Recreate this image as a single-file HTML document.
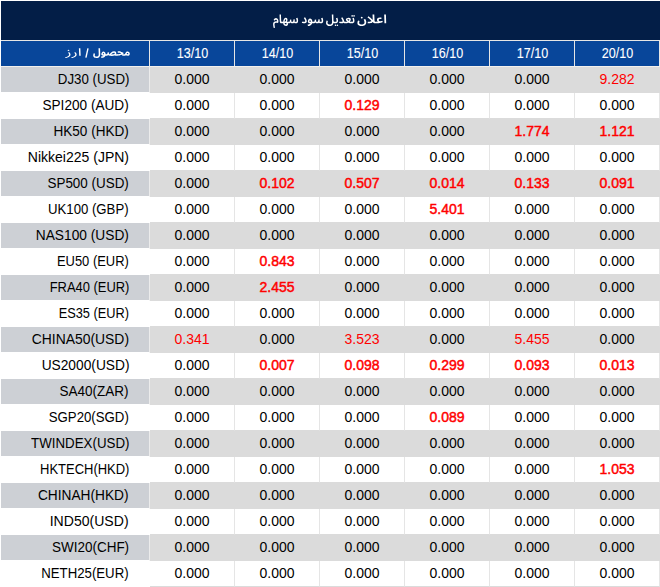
<!DOCTYPE html><html><head><meta charset='utf-8'><style>
*{margin:0;padding:0;box-sizing:border-box}
html,body{width:660px;height:587px;overflow:hidden;background:#fff}
body{position:relative;font-family:"Liberation Sans",sans-serif;}
.t{position:absolute;left:1px;top:1px;width:659px;height:39px;background:#031e47}
.h{position:absolute;top:41px;height:25px;background:#08469a}
.hd{position:absolute;top:41px;height:25px;width:84px;color:#fff;font-size:14px;line-height:25px;text-align:center}
.hd span{display:inline-block;transform:scaleX(0.9);position:relative;top:0px;left:1px;-webkit-text-stroke:0.1px #fff}
.r{position:absolute;left:1px;width:659px;height:26px}
.c{position:absolute;top:0;height:26px;border-right:1px solid #dbdbdb;border-bottom:1px solid #dbdbdb;text-align:center;font-size:14px;line-height:25px;color:#000000}
.c span{position:relative;top:0px}
.n{position:absolute;top:0;left:0;width:149px;height:26px;border-right:1px solid #ffffff;border-bottom:1px solid #ffffff;text-align:right;padding-right:20px;font-size:14px;line-height:25px;color:#000000}
.n span{display:inline-block;transform-origin:100% 50%;position:relative;top:0px}
.g .c{background:#dbdbdb}
.r:not(.g) .c{border-right-color:#e5e5e5}
.g .n{background:#cdd0d5;border-right-color:#ececec}
.red{color:#ff0000}
.b{-webkit-text-stroke:0.45px #ff0000}
svg{position:absolute;left:0;top:0}
</style></head><body><div class='t'></div><div style='position:absolute;left:1px;top:40px;width:659px;height:26px;background:#e6e6e6'></div><div style='position:absolute;left:1px;top:66px;width:659px;height:1px;background:#f2f0ed'></div><div class='h' style='left:1px;width:148px'></div><div class='h' style='left:150px;width:84px'></div><div class='hd' style='left:150px'><span>13/10</span></div><div class='h' style='left:235px;width:84px'></div><div class='hd' style='left:235px'><span>14/10</span></div><div class='h' style='left:320px;width:84px'></div><div class='hd' style='left:320px'><span>15/10</span></div><div class='h' style='left:405px;width:84px'></div><div class='hd' style='left:405px'><span>16/10</span></div><div class='h' style='left:490px;width:84px'></div><div class='hd' style='left:490px'><span>17/10</span></div><div class='h' style='left:575px;width:84px'></div><div class='hd' style='left:575px'><span>20/10</span></div><div class='r g' style='top:67px'><div class='n'><span style='transform:scaleX(0.9493)'>DJ30 (USD)</span></div><div class='c' style='left:149px;width:85px'><span class=''>0.000</span></div><div class='c' style='left:234px;width:85px'><span class=''>0.000</span></div><div class='c' style='left:319px;width:85px'><span class=''>0.000</span></div><div class='c' style='left:404px;width:85px'><span class=''>0.000</span></div><div class='c' style='left:489px;width:85px'><span class=''>0.000</span></div><div class='c' style='left:574px;width:85px'><span class='red'>9.282</span></div></div><div class='r' style='top:93px'><div class='n'><span style='transform:scaleX(0.9724)'>SPI200 (AUD)</span></div><div class='c' style='left:149px;width:85px'><span class=''>0.000</span></div><div class='c' style='left:234px;width:85px'><span class=''>0.000</span></div><div class='c' style='left:319px;width:85px'><span class='red b'>0.129</span></div><div class='c' style='left:404px;width:85px'><span class=''>0.000</span></div><div class='c' style='left:489px;width:85px'><span class=''>0.000</span></div><div class='c' style='left:574px;width:85px'><span class=''>0.000</span></div></div><div class='r g' style='top:119px'><div class='n'><span style='transform:scaleX(0.9684)'>HK50 (HKD)</span></div><div class='c' style='left:149px;width:85px'><span class=''>0.000</span></div><div class='c' style='left:234px;width:85px'><span class=''>0.000</span></div><div class='c' style='left:319px;width:85px'><span class=''>0.000</span></div><div class='c' style='left:404px;width:85px'><span class=''>0.000</span></div><div class='c' style='left:489px;width:85px'><span class='red b'>1.774</span></div><div class='c' style='left:574px;width:85px'><span class='red b'>1.121</span></div></div><div class='r' style='top:145px'><div class='n'><span style='transform:scaleX(1.0)'>Nikkei225 (JPN)</span></div><div class='c' style='left:149px;width:85px'><span class=''>0.000</span></div><div class='c' style='left:234px;width:85px'><span class=''>0.000</span></div><div class='c' style='left:319px;width:85px'><span class=''>0.000</span></div><div class='c' style='left:404px;width:85px'><span class=''>0.000</span></div><div class='c' style='left:489px;width:85px'><span class=''>0.000</span></div><div class='c' style='left:574px;width:85px'><span class=''>0.000</span></div></div><div class='r g' style='top:171px'><div class='n'><span style='transform:scaleX(0.959)'>SP500 (USD)</span></div><div class='c' style='left:149px;width:85px'><span class=''>0.000</span></div><div class='c' style='left:234px;width:85px'><span class='red b'>0.102</span></div><div class='c' style='left:319px;width:85px'><span class='red b'>0.507</span></div><div class='c' style='left:404px;width:85px'><span class='red b'>0.014</span></div><div class='c' style='left:489px;width:85px'><span class='red b'>0.133</span></div><div class='c' style='left:574px;width:85px'><span class='red b'>0.091</span></div></div><div class='r' style='top:197px'><div class='n'><span style='transform:scaleX(0.9417)'>UK100 (GBP)</span></div><div class='c' style='left:149px;width:85px'><span class=''>0.000</span></div><div class='c' style='left:234px;width:85px'><span class=''>0.000</span></div><div class='c' style='left:319px;width:85px'><span class=''>0.000</span></div><div class='c' style='left:404px;width:85px'><span class='red b'>5.401</span></div><div class='c' style='left:489px;width:85px'><span class=''>0.000</span></div><div class='c' style='left:574px;width:85px'><span class=''>0.000</span></div></div><div class='r g' style='top:223px'><div class='n'><span style='transform:scaleX(0.9817)'>NAS100 (USD)</span></div><div class='c' style='left:149px;width:85px'><span class=''>0.000</span></div><div class='c' style='left:234px;width:85px'><span class=''>0.000</span></div><div class='c' style='left:319px;width:85px'><span class=''>0.000</span></div><div class='c' style='left:404px;width:85px'><span class=''>0.000</span></div><div class='c' style='left:489px;width:85px'><span class=''>0.000</span></div><div class='c' style='left:574px;width:85px'><span class=''>0.000</span></div></div><div class='r' style='top:249px'><div class='n'><span style='transform:scaleX(0.9237)'>EU50 (EUR)</span></div><div class='c' style='left:149px;width:85px'><span class=''>0.000</span></div><div class='c' style='left:234px;width:85px'><span class='red b'>0.843</span></div><div class='c' style='left:319px;width:85px'><span class=''>0.000</span></div><div class='c' style='left:404px;width:85px'><span class=''>0.000</span></div><div class='c' style='left:489px;width:85px'><span class=''>0.000</span></div><div class='c' style='left:574px;width:85px'><span class=''>0.000</span></div></div><div class='r g' style='top:275px'><div class='n'><span style='transform:scaleX(0.9224)'>FRA40 (EUR)</span></div><div class='c' style='left:149px;width:85px'><span class=''>0.000</span></div><div class='c' style='left:234px;width:85px'><span class='red b'>2.455</span></div><div class='c' style='left:319px;width:85px'><span class=''>0.000</span></div><div class='c' style='left:404px;width:85px'><span class=''>0.000</span></div><div class='c' style='left:489px;width:85px'><span class=''>0.000</span></div><div class='c' style='left:574px;width:85px'><span class=''>0.000</span></div></div><div class='r' style='top:301px'><div class='n'><span style='transform:scaleX(0.9133)'>ES35 (EUR)</span></div><div class='c' style='left:149px;width:85px'><span class=''>0.000</span></div><div class='c' style='left:234px;width:85px'><span class=''>0.000</span></div><div class='c' style='left:319px;width:85px'><span class=''>0.000</span></div><div class='c' style='left:404px;width:85px'><span class=''>0.000</span></div><div class='c' style='left:489px;width:85px'><span class=''>0.000</span></div><div class='c' style='left:574px;width:85px'><span class=''>0.000</span></div></div><div class='r g' style='top:327px'><div class='n'><span style='transform:scaleX(0.9927)'>CHINA50(USD)</span></div><div class='c' style='left:149px;width:85px'><span class='red'>0.341</span></div><div class='c' style='left:234px;width:85px'><span class=''>0.000</span></div><div class='c' style='left:319px;width:85px'><span class='red'>3.523</span></div><div class='c' style='left:404px;width:85px'><span class=''>0.000</span></div><div class='c' style='left:489px;width:85px'><span class='red'>5.455</span></div><div class='c' style='left:574px;width:85px'><span class=''>0.000</span></div></div><div class='r' style='top:353px'><div class='n'><span style='transform:scaleX(0.9818)'>US2000(USD)</span></div><div class='c' style='left:149px;width:85px'><span class=''>0.000</span></div><div class='c' style='left:234px;width:85px'><span class='red b'>0.007</span></div><div class='c' style='left:319px;width:85px'><span class='red b'>0.098</span></div><div class='c' style='left:404px;width:85px'><span class='red b'>0.299</span></div><div class='c' style='left:489px;width:85px'><span class='red b'>0.093</span></div><div class='c' style='left:574px;width:85px'><span class='red b'>0.013</span></div></div><div class='r g' style='top:379px'><div class='n'><span style='transform:scaleX(0.9657)'>SA40(ZAR)</span></div><div class='c' style='left:149px;width:85px'><span class=''>0.000</span></div><div class='c' style='left:234px;width:85px'><span class=''>0.000</span></div><div class='c' style='left:319px;width:85px'><span class=''>0.000</span></div><div class='c' style='left:404px;width:85px'><span class=''>0.000</span></div><div class='c' style='left:489px;width:85px'><span class=''>0.000</span></div><div class='c' style='left:574px;width:85px'><span class=''>0.000</span></div></div><div class='r' style='top:405px'><div class='n'><span style='transform:scaleX(0.9446)'>SGP20(SGD)</span></div><div class='c' style='left:149px;width:85px'><span class=''>0.000</span></div><div class='c' style='left:234px;width:85px'><span class=''>0.000</span></div><div class='c' style='left:319px;width:85px'><span class=''>0.000</span></div><div class='c' style='left:404px;width:85px'><span class='red b'>0.089</span></div><div class='c' style='left:489px;width:85px'><span class=''>0.000</span></div><div class='c' style='left:574px;width:85px'><span class=''>0.000</span></div></div><div class='r g' style='top:431px'><div class='n'><span style='transform:scaleX(0.9505)'>TWINDEX(USD)</span></div><div class='c' style='left:149px;width:85px'><span class=''>0.000</span></div><div class='c' style='left:234px;width:85px'><span class=''>0.000</span></div><div class='c' style='left:319px;width:85px'><span class=''>0.000</span></div><div class='c' style='left:404px;width:85px'><span class=''>0.000</span></div><div class='c' style='left:489px;width:85px'><span class=''>0.000</span></div><div class='c' style='left:574px;width:85px'><span class=''>0.000</span></div></div><div class='r' style='top:457px'><div class='n'><span style='transform:scaleX(0.9263)'>HKTECH(HKD)</span></div><div class='c' style='left:149px;width:85px'><span class=''>0.000</span></div><div class='c' style='left:234px;width:85px'><span class=''>0.000</span></div><div class='c' style='left:319px;width:85px'><span class=''>0.000</span></div><div class='c' style='left:404px;width:85px'><span class=''>0.000</span></div><div class='c' style='left:489px;width:85px'><span class=''>0.000</span></div><div class='c' style='left:574px;width:85px'><span class='red b'>1.053</span></div></div><div class='r g' style='top:483px'><div class='n'><span style='transform:scaleX(0.9791)'>CHINAH(HKD)</span></div><div class='c' style='left:149px;width:85px'><span class=''>0.000</span></div><div class='c' style='left:234px;width:85px'><span class=''>0.000</span></div><div class='c' style='left:319px;width:85px'><span class=''>0.000</span></div><div class='c' style='left:404px;width:85px'><span class=''>0.000</span></div><div class='c' style='left:489px;width:85px'><span class=''>0.000</span></div><div class='c' style='left:574px;width:85px'><span class=''>0.000</span></div></div><div class='r' style='top:509px'><div class='n'><span style='transform:scaleX(1.0039)'>IND50(USD)</span></div><div class='c' style='left:149px;width:85px'><span class=''>0.000</span></div><div class='c' style='left:234px;width:85px'><span class=''>0.000</span></div><div class='c' style='left:319px;width:85px'><span class=''>0.000</span></div><div class='c' style='left:404px;width:85px'><span class=''>0.000</span></div><div class='c' style='left:489px;width:85px'><span class=''>0.000</span></div><div class='c' style='left:574px;width:85px'><span class=''>0.000</span></div></div><div class='r g' style='top:535px'><div class='n'><span style='transform:scaleX(0.9628)'>SWI20(CHF)</span></div><div class='c' style='left:149px;width:85px'><span class=''>0.000</span></div><div class='c' style='left:234px;width:85px'><span class=''>0.000</span></div><div class='c' style='left:319px;width:85px'><span class=''>0.000</span></div><div class='c' style='left:404px;width:85px'><span class=''>0.000</span></div><div class='c' style='left:489px;width:85px'><span class=''>0.000</span></div><div class='c' style='left:574px;width:85px'><span class=''>0.000</span></div></div><div class='r' style='top:561px'><div class='n'><span style='transform:scaleX(0.9429)'>NETH25(EUR)</span></div><div class='c' style='left:149px;width:85px'><span class=''>0.000</span></div><div class='c' style='left:234px;width:85px'><span class=''>0.000</span></div><div class='c' style='left:319px;width:85px'><span class=''>0.000</span></div><div class='c' style='left:404px;width:85px'><span class=''>0.000</span></div><div class='c' style='left:489px;width:85px'><span class=''>0.000</span></div><div class='c' style='left:574px;width:85px'><span class=''>0.000</span></div></div><svg width='660' height='587' viewBox='0 0 660 587'><path fill='#fff' d='M273.71 28.05Q273.51 27.21 273.37 26.47Q273.23 25.74 273.17 25.14Q273.1 24.55 273.1 24.13Q273.1 23.31 273.36 22.76Q273.61 22.2 274.05 21.87Q274.48 21.54 274.99 21.4Q275.51 21.26 276.04 21.27Q276.56 21.27 277.01 21.37Q277.04 20.99 276.97 20.68Q276.89 20.36 276.75 20.13Q276.61 19.89 276.41 19.77Q276.2 19.64 275.97 19.64Q275.74 19.64 275.53 19.75Q275.31 19.87 275.12 20.1Q274.93 20.33 274.76 20.68L273.65 20.01Q273.95 19.29 274.35 18.87Q274.74 18.45 275.18 18.26Q275.62 18.08 276.04 18.08Q276.68 18.08 277.15 18.38Q277.61 18.68 277.9 19.15Q278.18 19.63 278.32 20.17Q278.45 20.71 278.45 21.2Q278.45 21.57 278.38 21.94Q278.31 22.3 278.22 22.59Q278.12 22.89 278.04 23.05Q277.43 22.86 276.89 22.78Q276.35 22.7 275.92 22.73Q275.49 22.76 275.18 22.92Q274.86 23.08 274.7 23.4Q274.53 23.71 274.53 24.2Q274.53 24.64 274.59 25.22Q274.66 25.81 274.78 26.43Q274.9 27.06 275.06 27.68ZM282.3 23.36Q281.3 23.36 280.76 23.13Q280.22 22.91 280 22.42Q279.79 21.94 279.76 21.19L279.53 14.5H280.96L281.19 20.47Q281.21 21.03 281.3 21.31Q281.38 21.6 281.64 21.7Q281.9 21.8 282.41 21.8Q282.8 21.8 282.97 22.02Q283.13 22.24 283.13 22.56Q283.13 22.9 282.92 23.13Q282.7 23.36 282.3 23.36ZM285.97 25.95Q285.2 25.95 284.55 25.59Q283.91 25.22 283.52 24.46Q283.14 23.69 283.14 22.5Q283.14 21.44 283.37 20.56Q283.59 19.67 283.99 19.03Q284.38 18.38 284.87 18.02Q285.36 17.67 285.9 17.67Q286.31 17.67 286.67 17.92Q287.03 18.18 287.26 18.66Q287.48 19.13 287.48 19.82Q287.48 20.23 287.34 20.72Q287.2 21.2 286.83 21.63Q286.47 22.05 285.81 22.3L286.16 21.4Q286.51 21.54 286.91 21.63Q287.31 21.71 287.74 21.76Q288.17 21.8 288.59 21.8Q288.98 21.8 289.15 22.02Q289.31 22.24 289.31 22.56Q289.31 22.9 289.1 23.13Q288.88 23.36 288.48 23.36Q288.18 23.36 287.79 23.32Q287.41 23.29 287.04 23.23Q286.68 23.17 286.41 23.1L287.57 22.85Q287.83 23.18 287.93 23.59Q288.02 24 287.96 24.42Q287.89 24.83 287.65 25.18Q287.41 25.53 286.99 25.74Q286.57 25.95 285.97 25.95ZM282.31 23.36 282.42 21.8Q282.62 21.8 282.92 21.8Q283.22 21.8 283.45 21.8L283.56 23.21Q283.25 23.28 282.9 23.32Q282.55 23.36 282.31 23.36ZM285.94 24.41Q286.15 24.41 286.31 24.33Q286.46 24.25 286.54 24.11Q286.62 23.96 286.62 23.76Q286.62 23.59 286.53 23.39Q286.43 23.2 286.17 23.06Q285.9 22.92 285.42 22.92Q285.26 22.92 285.07 22.94Q284.88 22.96 284.67 23Q284.46 23.04 284.24 23.1L284.28 21.77Q284.7 21.73 285.04 21.61Q285.37 21.49 285.61 21.29Q285.84 21.08 285.97 20.78Q286.09 20.47 286.09 20.06Q286.09 19.86 286.06 19.67Q286.02 19.47 285.95 19.34Q285.88 19.21 285.77 19.21Q285.59 19.21 285.39 19.43Q285.18 19.65 284.99 20.06Q284.81 20.47 284.69 21.04Q284.56 21.61 284.56 22.3Q284.56 22.92 284.68 23.33Q284.8 23.74 285 23.97Q285.2 24.21 285.45 24.31Q285.69 24.41 285.94 24.41ZM288.49 23.36 288.6 21.8Q288.97 21.8 289.2 21.74Q289.43 21.67 289.58 21.44Q289.73 21.21 289.84 20.73Q289.96 20.25 290.11 19.42L291.44 19.7Q291.4 19.89 291.36 20.13Q291.31 20.38 291.27 20.63Q291.24 20.88 291.24 21.08Q291.24 21.41 291.44 21.61Q291.64 21.8 292.19 21.8Q292.48 21.8 292.69 21.74Q292.89 21.67 293.04 21.44Q293.19 21.2 293.3 20.7Q293.42 20.2 293.53 19.34L294.87 19.57Q294.83 19.84 294.79 20.15Q294.74 20.47 294.71 20.74Q294.67 21.01 294.67 21.19Q294.67 21.35 294.75 21.49Q294.83 21.63 295.06 21.72Q295.28 21.8 295.71 21.8Q296.01 21.8 296.23 21.72Q296.45 21.63 296.57 21.43Q296.69 21.23 296.69 20.9Q296.69 20.45 296.5 19.73Q296.31 19.01 296.05 18.24L297.49 17.76Q297.66 18.25 297.8 18.82Q297.93 19.39 298.02 19.93Q298.1 20.46 298.1 20.86Q298.1 21.47 297.93 21.94Q297.76 22.4 297.46 22.72Q297.15 23.03 296.72 23.2Q296.3 23.36 295.78 23.36Q295.17 23.36 294.77 23.22Q294.38 23.08 294.17 22.76Q293.96 22.44 293.9 21.89H294.27Q294.04 22.57 293.77 22.88Q293.49 23.19 293.11 23.27Q292.72 23.36 292.14 23.36Q291.79 23.36 291.42 23.27Q291.06 23.18 290.77 22.85Q290.48 22.52 290.36 21.84L290.91 21.8Q290.68 22.5 290.33 22.83Q289.98 23.16 289.52 23.26Q289.06 23.36 288.49 23.36Z M301.8 22.81 302.35 21.4Q302.73 21.59 303.13 21.7Q303.53 21.8 303.95 21.8Q304.38 21.8 304.67 21.72Q304.95 21.63 305.09 21.46Q305.24 21.28 305.24 21.05Q305.24 20.84 305.12 20.48Q305 20.11 304.69 19.52Q304.38 18.93 303.76 18.04L305.03 17.17Q305.59 18 305.99 18.76Q306.38 19.53 306.59 20.18Q306.8 20.82 306.8 21.31Q306.8 21.91 306.5 22.37Q306.2 22.83 305.6 23.1Q305 23.37 304.09 23.37Q303.74 23.37 303.33 23.31Q302.92 23.25 302.52 23.12Q302.12 23 301.8 22.81ZM307.93 26.08 307.62 24.52Q308.41 24.41 309.01 24.26Q309.62 24.1 310.04 23.82Q310.45 23.55 310.66 23.07Q310.88 22.59 310.88 21.84Q310.88 21.11 310.65 20.67Q310.43 20.22 310.06 20.22Q309.82 20.22 309.65 20.4Q309.48 20.58 309.39 20.83Q309.31 21.08 309.31 21.3Q309.31 21.43 309.37 21.56Q309.44 21.68 309.63 21.76Q309.82 21.85 310.22 21.86Q310.61 21.88 311.27 21.8H313.3Q313.7 21.8 313.87 22.02Q314.05 22.24 314.05 22.56Q314.05 22.9 313.82 23.13Q313.59 23.36 313.18 23.36H310.09Q309.4 23.36 308.9 23.18Q308.4 23.01 308.12 22.62Q307.85 22.23 307.85 21.57Q307.85 21.04 308.02 20.51Q308.19 19.98 308.5 19.54Q308.81 19.11 309.23 18.84Q309.65 18.58 310.14 18.58Q310.8 18.58 311.3 19.01Q311.79 19.43 312.08 20.15Q312.36 20.88 312.36 21.77Q312.36 23.09 311.83 24.02Q311.3 24.94 310.31 25.46Q309.31 25.98 307.93 26.08ZM313.19 23.36 313.31 21.8Q313.68 21.8 313.92 21.74Q314.16 21.67 314.32 21.44Q314.47 21.21 314.6 20.73Q314.72 20.25 314.88 19.42L316.26 19.7Q316.22 19.89 316.17 20.13Q316.12 20.38 316.09 20.63Q316.05 20.88 316.05 21.08Q316.05 21.41 316.26 21.61Q316.47 21.8 317.05 21.8Q317.35 21.8 317.56 21.74Q317.77 21.67 317.93 21.44Q318.08 21.2 318.2 20.7Q318.32 20.2 318.44 19.34L319.84 19.57Q319.79 19.84 319.75 20.15Q319.7 20.47 319.67 20.74Q319.63 21.01 319.63 21.19Q319.63 21.35 319.71 21.49Q319.8 21.63 320.03 21.72Q320.27 21.8 320.71 21.8Q321.02 21.8 321.25 21.72Q321.48 21.63 321.6 21.43Q321.73 21.23 321.73 20.9Q321.73 20.45 321.53 19.73Q321.33 19.01 321.07 18.24L322.56 17.76Q322.74 18.25 322.88 18.82Q323.03 19.39 323.11 19.93Q323.2 20.46 323.2 20.86Q323.2 21.47 323.02 21.94Q322.85 22.4 322.53 22.72Q322.21 23.03 321.77 23.2Q321.32 23.36 320.79 23.36Q320.14 23.36 319.73 23.22Q319.32 23.08 319.1 22.76Q318.89 22.44 318.82 21.89H319.21Q318.97 22.57 318.69 22.88Q318.4 23.19 318 23.27Q317.6 23.36 316.99 23.36Q316.63 23.36 316.25 23.27Q315.86 23.18 315.56 22.85Q315.26 22.52 315.13 21.84L315.7 21.8Q315.47 22.5 315.1 22.83Q314.74 23.16 314.26 23.26Q313.79 23.36 313.19 23.36Z M326.05 23.03Q326.05 22.75 326.1 22.38Q326.14 22.01 326.27 21.56Q326.39 21.1 326.63 20.54L327.93 21.02Q327.81 21.39 327.72 21.7Q327.62 22 327.58 22.26Q327.53 22.53 327.53 22.78Q327.53 23.33 327.8 23.74Q328.07 24.15 328.53 24.37Q329 24.59 329.59 24.59Q330.6 24.59 331.14 24.24Q331.69 23.9 331.89 23.18Q332.09 22.47 332.05 21.39L331.81 14.5H333.31L333.48 20.29Q333.5 20.9 333.65 21.23Q333.79 21.56 334.08 21.68Q334.38 21.8 334.82 21.8Q335.22 21.8 335.39 22.02Q335.56 22.24 335.56 22.56Q335.56 22.9 335.34 23.13Q335.11 23.36 334.71 23.36Q334.44 23.36 334.15 23.28Q333.87 23.2 333.63 23.05Q333.38 22.89 333.21 22.64Q333.03 22.39 332.97 22.03L333.53 21.83Q333.52 22.94 333.26 23.75Q333 24.55 332.51 25.07Q332.01 25.59 331.27 25.84Q330.53 26.09 329.54 26.09Q328.83 26.09 328.2 25.9Q327.57 25.71 327.09 25.33Q326.6 24.94 326.33 24.37Q326.05 23.8 326.05 23.03ZM334.71 23.36 334.82 21.8Q335.51 21.8 335.88 21.73Q336.25 21.66 336.4 21.46Q336.55 21.26 336.55 20.86Q336.55 20.53 336.46 20.07Q336.37 19.61 336.24 19.11Q336.1 18.61 335.95 18.18L337.41 17.74Q337.56 18.14 337.7 18.68Q337.83 19.21 337.93 19.77Q338.02 20.32 338.02 20.82Q338.02 21.6 337.78 22.1Q337.55 22.6 337.12 22.87Q336.69 23.15 336.07 23.25Q335.46 23.36 334.71 23.36ZM337.42 26.06Q337.1 26.06 336.88 25.83Q336.65 25.6 336.65 25.27Q336.65 24.95 336.87 24.71Q337.1 24.47 337.42 24.47Q337.72 24.47 337.94 24.71Q338.16 24.95 338.16 25.27Q338.16 25.6 337.94 25.83Q337.72 26.06 337.42 26.06ZM335.5 26.06Q335.19 26.06 334.96 25.83Q334.74 25.6 334.74 25.27Q334.74 24.95 334.96 24.71Q335.18 24.47 335.5 24.47Q335.81 24.47 336.03 24.71Q336.24 24.95 336.24 25.27Q336.24 25.6 336.03 25.83Q335.81 26.06 335.5 26.06ZM341.21 21.8Q341.74 21.8 342.03 21.7Q342.31 21.6 342.43 21.43Q342.54 21.26 342.54 21.05Q342.54 20.77 342.39 20.39Q342.24 20.01 342.02 19.59Q341.79 19.17 341.54 18.77Q341.29 18.37 341.07 18.04L342.33 17.17Q342.82 17.87 343.17 18.54Q343.52 19.21 343.75 19.79Q343.97 20.36 344.07 20.79Q344.18 21.2 344.37 21.42Q344.56 21.64 344.81 21.72Q345.05 21.8 345.29 21.8Q345.7 21.8 345.87 22.02Q346.05 22.24 346.05 22.56Q346.05 22.9 345.82 23.13Q345.6 23.36 345.18 23.36Q344.7 23.36 344.32 23.21Q343.95 23.07 343.68 22.75Q343.42 22.43 343.25 21.93L343.91 21.98Q343.83 22.35 343.53 22.66Q343.22 22.98 342.69 23.18Q342.16 23.37 341.4 23.37Q341.04 23.37 340.62 23.31Q340.21 23.25 339.82 23.12Q339.43 23 339.11 22.81L339.65 21.4Q340.04 21.59 340.44 21.7Q340.84 21.8 341.21 21.8ZM345.15 23.36 345.27 21.8Q346.05 21.8 346.69 21.68Q347.33 21.56 347.82 21.36Q348.31 21.16 348.65 20.9Q348.98 20.63 349.16 20.34Q349.33 20.05 349.33 19.76Q349.33 19.6 349.25 19.46Q349.17 19.32 348.98 19.22Q348.8 19.13 348.48 19.13Q348.31 19.13 348.08 19.17Q347.85 19.21 347.63 19.29Q347.41 19.37 347.23 19.49Q347.48 19.69 347.77 19.98Q348.05 20.27 348.34 20.59Q348.63 20.9 348.86 21.22Q349.1 21.34 349.4 21.45Q349.7 21.57 350.06 21.64Q350.41 21.72 350.79 21.76Q351.18 21.8 351.58 21.8Q351.98 21.8 352.15 22.02Q352.33 22.24 352.33 22.56Q352.33 22.9 352.1 23.13Q351.88 23.36 351.46 23.36Q350.6 23.36 349.89 23.21Q349.19 23.07 348.63 22.78Q348.07 22.49 347.6 22.07Q347.45 21.82 347.21 21.53Q346.96 21.23 346.69 20.96Q346.41 20.68 346.18 20.49Q346.12 20.44 346.04 20.24Q345.97 20.04 345.91 19.81Q345.86 19.59 345.86 19.5Q345.86 19.24 346.1 18.93Q346.34 18.63 346.75 18.37Q347.16 18.1 347.67 17.93Q348.17 17.76 348.7 17.76Q349.4 17.76 349.86 17.98Q350.33 18.2 350.56 18.58Q350.79 18.96 350.79 19.45Q350.79 20.02 350.55 20.58Q350.3 21.15 349.84 21.64Q349.37 22.14 348.69 22.53Q348 22.91 347.12 23.14Q346.23 23.36 345.15 23.36ZM351.47 23.36 351.59 21.8Q352.11 21.8 352.41 21.73Q352.71 21.66 352.84 21.45Q352.97 21.25 352.97 20.86Q352.97 20.53 352.88 20.07Q352.79 19.61 352.65 19.11Q352.51 18.61 352.37 18.18L353.83 17.74Q353.97 18.14 354.11 18.68Q354.25 19.21 354.34 19.77Q354.44 20.32 354.44 20.82Q354.44 21.45 354.29 21.89Q354.14 22.33 353.88 22.62Q353.61 22.91 353.24 23.07Q352.87 23.23 352.42 23.3Q351.97 23.36 351.47 23.36ZM354.06 16.71Q353.74 16.71 353.52 16.47Q353.3 16.24 353.3 15.92Q353.3 15.59 353.52 15.35Q353.74 15.11 354.06 15.11Q354.36 15.11 354.58 15.35Q354.8 15.59 354.8 15.92Q354.8 16.24 354.58 16.47Q354.36 16.71 354.06 16.71ZM352.15 16.7Q351.83 16.7 351.61 16.46Q351.39 16.23 351.39 15.91Q351.39 15.58 351.61 15.34Q351.83 15.1 352.15 15.1Q352.45 15.1 352.67 15.34Q352.89 15.58 352.89 15.91Q352.89 16.23 352.67 16.46Q352.45 16.7 352.15 16.7Z M357.4 23.03Q357.4 22.75 357.46 22.38Q357.51 22.01 357.66 21.56Q357.8 21.1 358.08 20.54L359.61 21.02Q359.47 21.39 359.36 21.7Q359.25 22 359.2 22.26Q359.15 22.53 359.15 22.78Q359.15 23.38 359.46 23.76Q359.78 24.15 360.35 24.34Q360.92 24.53 361.66 24.53Q362.52 24.53 363.07 24.33Q363.63 24.12 363.94 23.8Q364.25 23.47 364.38 23.08Q364.51 22.69 364.51 22.31Q364.51 21.83 364.31 21.15Q364.12 20.47 363.63 19.59L365.24 18.97Q365.51 19.4 365.74 19.95Q365.97 20.5 366.11 21.09Q366.25 21.68 366.25 22.22Q366.25 22.7 366.12 23.23Q365.98 23.76 365.67 24.27Q365.35 24.78 364.82 25.19Q364.29 25.59 363.5 25.84Q362.72 26.09 361.63 26.09Q360.76 26.09 359.99 25.91Q359.22 25.74 358.65 25.37Q358.07 25.01 357.73 24.42Q357.4 23.84 357.4 23.03ZM361.75 18.4Q361.36 18.4 361.09 18.16Q360.81 17.92 360.81 17.57Q360.81 17.22 361.09 16.97Q361.36 16.72 361.76 16.72Q362.13 16.72 362.41 16.97Q362.68 17.22 362.68 17.57Q362.68 17.92 362.41 18.16Q362.13 18.4 361.75 18.4ZM375.93 23.36Q375 23.36 374.41 23.23Q373.81 23.11 373.47 22.84Q373.13 22.57 372.98 22.17Q372.84 21.76 372.82 21.19L372.53 14.5H374.28L374.56 20.47Q374.59 21.03 374.7 21.31Q374.8 21.6 375.12 21.7Q375.43 21.8 376.06 21.8Q376.53 21.8 376.74 22.02Q376.94 22.24 376.94 22.56Q376.94 22.9 376.68 23.13Q376.41 23.36 375.93 23.36ZM368.85 23.36Q368.48 23.36 368.11 23.31Q367.74 23.25 367.59 23.23L367.83 21.63Q368.76 21.74 369.64 21.67Q370.51 21.6 371.21 21.28Q371.9 20.95 372.31 20.31Q372.71 19.68 372.71 18.66L373.43 20.47Q373.27 21.28 372.89 21.82Q372.52 22.35 372.01 22.66Q371.51 22.97 370.95 23.12Q370.38 23.27 369.84 23.31Q369.3 23.36 368.85 23.36ZM371.79 21.71Q371.58 21.35 371.2 20.87Q370.82 20.39 370.27 19.8Q369.72 19.21 369.02 18.56Q368.31 17.9 367.47 17.21L368.56 16.15Q369.75 17.16 370.52 17.87Q371.29 18.58 371.77 19.09Q372.25 19.59 372.52 19.97Q372.8 20.34 372.99 20.68ZM375.94 23.36 376.07 21.8Q376.75 21.8 377.12 21.79Q377.49 21.78 377.67 21.76Q377.85 21.74 377.97 21.73Q377.81 21.61 377.58 21.38Q377.34 21.14 377.16 20.77Q376.97 20.4 376.97 19.88Q376.97 19.16 377.39 18.61Q377.8 18.06 378.51 17.75Q379.22 17.44 380.11 17.44Q380.52 17.44 380.89 17.49Q381.26 17.54 381.63 17.63L381.34 19.11Q381.07 19.05 380.78 19.01Q380.48 18.98 380.24 18.98Q379.79 18.98 379.45 19.11Q379.11 19.25 378.92 19.48Q378.73 19.72 378.73 20.05Q378.73 20.28 378.83 20.47Q378.93 20.67 379.09 20.82Q379.24 20.98 379.43 21.09Q379.62 21.21 379.8 21.27Q379.98 21.34 380.11 21.36Q380.42 21.28 380.64 21.22Q380.87 21.16 381.1 21.1Q381.32 21.03 381.6 20.93Q381.88 20.82 382.29 20.66L382.86 22.12Q381.76 22.59 380.71 22.86Q379.65 23.13 378.5 23.25Q377.35 23.36 375.94 23.36ZM384.46 23.3 384.17 14.5H385.92L386.2 23.3Z'/><path fill='#fff' d='M65.53 58.07 65 57.21Q66.63 56.88 67.52 56.44Q68.42 55.99 68.77 55.51Q69.12 55.02 69.12 54.57Q69.12 54.28 69.02 54Q68.91 53.73 68.67 53.38Q68.42 53.04 67.99 52.55L69.34 52.13Q69.95 52.81 70.23 53.41Q70.51 54.01 70.51 54.48Q70.51 55.11 70.19 55.63Q69.88 56.15 69.34 56.55Q68.81 56.96 68.16 57.26Q67.51 57.56 66.82 57.76Q66.13 57.97 65.53 58.07ZM68.49 50.96Q68.12 50.96 67.87 50.81Q67.61 50.65 67.61 50.42Q67.61 50.2 67.87 50.03Q68.12 49.87 68.49 49.87Q68.85 49.87 69.1 50.03Q69.36 50.2 69.36 50.42Q69.36 50.65 69.1 50.81Q68.85 50.96 68.49 50.96ZM71.68 58.07 71.15 57.21Q72.78 56.88 73.67 56.44Q74.57 55.99 74.92 55.51Q75.27 55.02 75.27 54.57Q75.27 54.28 75.16 54Q75.06 53.73 74.81 53.38Q74.57 53.04 74.14 52.55L75.48 52.13Q76.1 52.81 76.38 53.41Q76.66 54.01 76.66 54.48Q76.66 55.11 76.34 55.63Q76.03 56.15 75.49 56.55Q74.96 56.96 74.31 57.26Q73.66 57.56 72.97 57.76Q72.28 57.97 71.68 58.07ZM79.22 55.7 78.89 48.3H80.37L80.7 55.7Z M93.2 55.41Q93.2 55.16 93.24 54.85Q93.28 54.54 93.4 54.14Q93.52 53.74 93.75 53.23L95.13 53.69Q95.01 54.02 94.92 54.27Q94.84 54.52 94.8 54.73Q94.76 54.94 94.76 55.15Q94.76 55.63 94.99 55.95Q95.22 56.27 95.65 56.43Q96.07 56.59 96.63 56.59Q97.36 56.59 97.78 56.37Q98.21 56.16 98.41 55.76Q98.61 55.36 98.67 54.82Q98.72 54.28 98.7 53.64L98.5 48.3H100.06L100.24 53.55Q100.26 54.21 100.19 54.85Q100.11 55.5 99.89 56.07Q99.66 56.64 99.25 57.07Q98.83 57.51 98.18 57.76Q97.54 58.01 96.6 58.01Q95.9 58.01 95.29 57.86Q94.67 57.71 94.2 57.4Q93.73 57.08 93.47 56.59Q93.2 56.09 93.2 55.41ZM101.4 58.01 101.11 56.57Q101.86 56.49 102.43 56.36Q103 56.23 103.39 56.01Q103.77 55.78 103.96 55.4Q104.16 55.02 104.16 54.44Q104.16 53.81 103.97 53.45Q103.78 53.08 103.46 53.08Q103.25 53.08 103.11 53.22Q102.98 53.36 102.91 53.56Q102.84 53.75 102.84 53.9Q102.84 54.01 102.9 54.11Q102.96 54.22 103.14 54.29Q103.33 54.36 103.73 54.37Q104.13 54.37 104.82 54.28H106.45Q106.87 54.28 107.06 54.49Q107.24 54.69 107.24 55Q107.24 55.32 107.01 55.54Q106.78 55.75 106.34 55.75H103.59Q102.88 55.75 102.38 55.58Q101.87 55.42 101.6 55.07Q101.34 54.72 101.34 54.15Q101.34 53.7 101.5 53.25Q101.66 52.8 101.96 52.42Q102.25 52.05 102.65 51.82Q103.05 51.59 103.52 51.59Q104.18 51.59 104.67 51.97Q105.15 52.35 105.42 52.98Q105.69 53.61 105.69 54.35Q105.69 55.46 105.18 56.25Q104.68 57.04 103.72 57.48Q102.76 57.93 101.4 58.01ZM117.04 55.75Q116.46 55.75 115.95 55.65Q115.45 55.55 115.06 55.38Q114.67 55.22 114.42 55.03L115.38 54Q115.76 54.15 116.16 54.22Q116.56 54.28 117.14 54.28Q117.57 54.28 117.75 54.49Q117.94 54.69 117.94 55Q117.94 55.32 117.7 55.54Q117.47 55.75 117.04 55.75ZM111.86 55.88Q110.87 55.88 110.22 55.8Q109.57 55.71 109.17 55.56Q108.77 55.41 108.53 55.2Q108.29 54.99 108.14 54.74L108.44 54.66Q108.18 55.14 107.83 55.37Q107.49 55.61 107.12 55.68Q106.74 55.75 106.35 55.75L106.46 54.28Q106.78 54.28 106.96 54.18Q107.14 54.08 107.26 53.85Q107.38 53.62 107.48 53.23Q107.58 52.85 107.73 52.29L109.15 52.62Q109.08 52.89 109.03 53.09Q108.98 53.29 108.96 53.44Q108.93 53.58 108.93 53.67Q108.93 53.86 109.02 54Q109.11 54.15 109.38 54.24Q109.65 54.32 110.16 54.37Q110.68 54.41 111.53 54.41Q112.48 54.41 113.1 54.35Q113.72 54.28 114.08 54.16Q114.44 54.03 114.59 53.85Q114.75 53.68 114.75 53.44Q114.75 53.26 114.66 53.1Q114.57 52.94 114.38 52.83Q114.18 52.73 113.88 52.73Q113.52 52.73 113.15 52.89Q112.78 53.06 112.41 53.33Q112.04 53.61 111.71 53.95Q111.37 54.29 111.1 54.65L109.45 54.46Q109.88 53.81 110.4 53.23Q110.93 52.65 111.53 52.21Q112.13 51.76 112.76 51.51Q113.39 51.25 114.04 51.25Q114.76 51.25 115.26 51.52Q115.77 51.79 116.03 52.26Q116.3 52.73 116.3 53.34Q116.3 54.09 115.86 54.66Q115.41 55.23 114.44 55.56Q113.46 55.88 111.86 55.88ZM124.11 55.75Q123.6 55.75 123.18 55.68Q122.75 55.6 122.4 55.42Q122.06 55.25 121.79 54.93Q121.53 54.62 121.35 54.15L122.22 53.5Q122.39 53.81 122.66 53.98Q122.93 54.15 123.31 54.21Q123.69 54.28 124.21 54.28Q124.64 54.28 124.82 54.49Q125 54.69 125 55Q125 55.32 124.77 55.54Q124.54 55.75 124.11 55.75ZM117.04 55.75 117.15 54.28Q117.74 54.28 118.31 54.22Q118.89 54.16 119.43 54.04Q119.96 53.92 120.45 53.72Q120.93 53.53 121.35 53.26Q121.03 53.09 120.66 52.98Q120.29 52.86 119.87 52.8Q119.46 52.74 119 52.74Q118.83 52.74 118.63 52.75Q118.43 52.76 118.22 52.79Q118.01 52.81 117.82 52.85L117.61 51.39Q117.91 51.31 118.28 51.27Q118.65 51.24 118.93 51.24Q119.5 51.24 119.98 51.36Q120.47 51.48 120.88 51.65Q121.29 51.83 121.65 52.01Q122.01 52.19 122.33 52.31Q122.65 52.43 122.95 52.43H123.35L123.53 53.8Q123.09 53.83 122.7 53.98Q122.31 54.13 121.93 54.36Q121.55 54.58 121.1 54.82Q120.66 55.06 120.09 55.27Q119.52 55.48 118.78 55.62Q118.04 55.75 117.04 55.75ZM124.11 55.75 124.21 54.28Q124.48 54.28 124.67 54.16Q124.85 54.04 125.04 53.75Q125.22 53.47 125.48 53.01Q125.82 52.4 126.17 52.06Q126.51 51.71 126.87 51.58Q127.23 51.44 127.59 51.44Q128.06 51.44 128.47 51.64Q128.87 51.84 129.17 52.17Q129.47 52.51 129.63 52.93Q129.8 53.35 129.8 53.79Q129.8 54.33 129.57 54.77Q129.33 55.2 128.91 55.45Q128.49 55.7 127.93 55.7Q127.47 55.7 126.88 55.55Q126.29 55.4 125.61 54.93L126.17 53.67Q126.63 53.98 127.05 54.11Q127.46 54.24 127.73 54.24Q127.94 54.24 128.07 54.2Q128.2 54.16 128.26 54.07Q128.32 53.98 128.32 53.84Q128.32 53.63 128.22 53.42Q128.11 53.2 127.94 53.06Q127.77 52.91 127.55 52.91Q127.34 52.91 127.18 53.06Q127.02 53.21 126.87 53.49Q126.72 53.78 126.5 54.18Q126.26 54.62 126.04 54.93Q125.82 55.23 125.56 55.41Q125.3 55.59 124.95 55.67Q124.6 55.75 124.11 55.75Z'/><path d='M85.9 57.6L88 48.4' stroke='#fff' stroke-width='1.4'/></svg></body></html>
